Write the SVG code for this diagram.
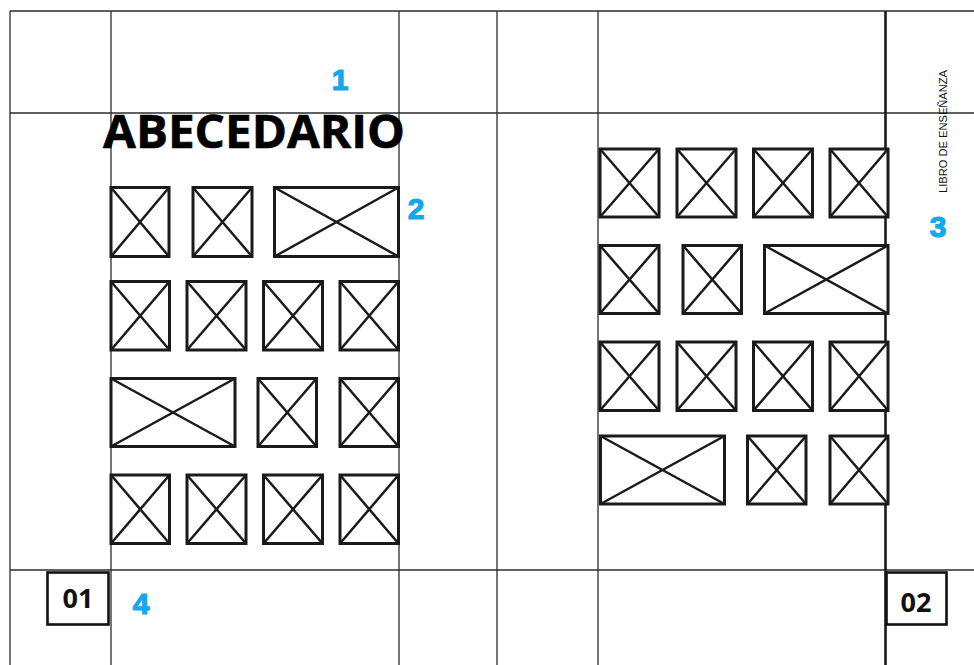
<svg xmlns="http://www.w3.org/2000/svg" width="974" height="665" viewBox="0 0 974 665">
<defs>
<style>
.grid{stroke:#2b2b2b;stroke-width:1.3;fill:none}
.spine{stroke:#1a1a1a;stroke-width:2.6;fill:none}
.ph rect{fill:#fff;stroke:#1a1a1a;stroke-width:3}
.ph line{stroke:#1a1a1a;stroke-width:2.5}
.num{font-family:"Liberation Sans",Arial,sans-serif;font-weight:bold;font-size:30px;fill:#12a9ea;stroke:#12a9ea;stroke-width:1.2;text-anchor:middle}
.pg rect{fill:#fff;stroke:#111;stroke-width:2.6}
.pg text{font-family:"Open Sans","Liberation Sans",sans-serif;font-weight:bold;font-size:27px;fill:#111;text-anchor:middle}
</style>
</defs>
<rect width="974" height="665" fill="#fff"/>
<g id="grid">
<line class="grid" x1="10" y1="11" x2="974" y2="11"/>
<line class="grid" x1="10" y1="113" x2="974" y2="113"/>
<line class="grid" x1="10" y1="570" x2="974" y2="570"/>
<line class="grid" x1="10" y1="11" x2="10" y2="665"/>
<line class="grid" x1="111" y1="11" x2="111" y2="665"/>
<line class="grid" x1="399" y1="11" x2="399" y2="665"/>
<line class="grid" x1="497" y1="11" x2="497" y2="665"/>
<line class="grid" x1="598" y1="11" x2="598" y2="665"/>
<line class="spine" x1="885.5" y1="11" x2="885.5" y2="665"/>
</g>
<g id="title">
<text x="103" y="148" font-family="'Open Sans','Liberation Sans',sans-serif" font-weight="bold" font-size="46" fill="#000" stroke="#000" stroke-width="0.6" textLength="302" lengthAdjust="spacingAndGlyphs">ABECEDARIO</text>
</g>
<g id="spine-title">
<text x="947" y="193" transform="rotate(-90 947 193)" font-family="'Liberation Sans',Arial,sans-serif" font-size="11" fill="#111" textLength="123" lengthAdjust="spacingAndGlyphs">LIBRO DE ENSEÑANZA</text>
</g>
<g id="markers">
<text class="num" x="340" y="90">1</text>
<text class="num" x="416" y="219">2</text>
<text class="num" x="938" y="237">3</text>
<text class="num" x="141" y="614">4</text>
</g>
<g id="page-01" class="pg">
<rect x="47.5" y="572.5" width="61" height="52"/>
<text x="78" y="608">01</text>
</g>
<g id="page-02" class="pg">
<rect x="886.5" y="572.5" width="60" height="52"/>
<text x="916" y="612">02</text>
</g>
<g id="left-images" class="ph">
<g id="L1a"><rect x="111" y="187.5" width="58" height="69"/><line x1="111" y1="187.5" x2="169" y2="256.5"/><line x1="169" y1="187.5" x2="111" y2="256.5"/></g>
<g id="L1b"><rect x="193" y="187.5" width="59" height="69"/><line x1="193" y1="187.5" x2="252" y2="256.5"/><line x1="252" y1="187.5" x2="193" y2="256.5"/></g>
<g id="L1c"><rect x="274.5" y="187.5" width="124" height="69"/><line x1="274.5" y1="187.5" x2="398.5" y2="256.5"/><line x1="398.5" y1="187.5" x2="274.5" y2="256.5"/></g>

<g id="L2a"><rect x="111" y="281.5" width="58.5" height="68.5"/><line x1="111" y1="281.5" x2="169.5" y2="350"/><line x1="169.5" y1="281.5" x2="111" y2="350"/></g>
<g id="L2b"><rect x="187" y="281.5" width="59" height="68.5"/><line x1="187" y1="281.5" x2="246" y2="350"/><line x1="246" y1="281.5" x2="187" y2="350"/></g>
<g id="L2c"><rect x="263.5" y="281.5" width="59" height="68.5"/><line x1="263.5" y1="281.5" x2="322.5" y2="350"/><line x1="322.5" y1="281.5" x2="263.5" y2="350"/></g>
<g id="L2d"><rect x="340" y="281.5" width="58.5" height="68.5"/><line x1="340" y1="281.5" x2="398.5" y2="350"/><line x1="398.5" y1="281.5" x2="340" y2="350"/></g>

<g id="L3a"><rect x="111" y="378.5" width="124" height="68"/><line x1="111" y1="378.5" x2="235" y2="446.5"/><line x1="235" y1="378.5" x2="111" y2="446.5"/></g>
<g id="L3b"><rect x="258" y="378.5" width="58.5" height="68"/><line x1="258" y1="378.5" x2="316.5" y2="446.5"/><line x1="316.5" y1="378.5" x2="258" y2="446.5"/></g>
<g id="L3c"><rect x="340" y="378.5" width="58.5" height="68"/><line x1="340" y1="378.5" x2="398.5" y2="446.5"/><line x1="398.5" y1="378.5" x2="340" y2="446.5"/></g>

<g id="L4a"><rect x="111" y="475" width="58.5" height="68.5"/><line x1="111" y1="475" x2="169.5" y2="543.5"/><line x1="169.5" y1="475" x2="111" y2="543.5"/></g>
<g id="L4b"><rect x="187" y="475" width="59" height="68.5"/><line x1="187" y1="475" x2="246" y2="543.5"/><line x1="246" y1="475" x2="187" y2="543.5"/></g>
<g id="L4c"><rect x="263.5" y="475" width="59" height="68.5"/><line x1="263.5" y1="475" x2="322.5" y2="543.5"/><line x1="322.5" y1="475" x2="263.5" y2="543.5"/></g>
<g id="L4d"><rect x="340" y="475" width="58.5" height="68.5"/><line x1="340" y1="475" x2="398.5" y2="543.5"/><line x1="398.5" y1="475" x2="340" y2="543.5"/></g>
</g>
<g id="right-images" class="ph">
<g id="R1a"><rect x="600" y="149" width="59" height="68"/><line x1="600" y1="149" x2="659" y2="217"/><line x1="659" y1="149" x2="600" y2="217"/></g>
<g id="R1b"><rect x="677" y="149" width="59" height="68"/><line x1="677" y1="149" x2="736" y2="217"/><line x1="736" y1="149" x2="677" y2="217"/></g>
<g id="R1c"><rect x="753.5" y="149" width="59" height="68"/><line x1="753.5" y1="149" x2="812.5" y2="217"/><line x1="812.5" y1="149" x2="753.5" y2="217"/></g>
<g id="R1d"><rect x="830" y="149" width="58" height="68"/><line x1="830" y1="149" x2="888" y2="217"/><line x1="888" y1="149" x2="830" y2="217"/></g>

<g id="R2a"><rect x="600" y="245.5" width="59" height="68"/><line x1="600" y1="245.5" x2="659" y2="313.5"/><line x1="659" y1="245.5" x2="600" y2="313.5"/></g>
<g id="R2b"><rect x="683" y="245.5" width="58.5" height="68"/><line x1="683" y1="245.5" x2="741.5" y2="313.5"/><line x1="741.5" y1="245.5" x2="683" y2="313.5"/></g>
<g id="R2c"><rect x="764.5" y="245.5" width="123.5" height="68"/><line x1="764.5" y1="245.5" x2="888" y2="313.5"/><line x1="888" y1="245.5" x2="764.5" y2="313.5"/></g>

<g id="R3a"><rect x="600" y="342" width="59" height="68.5"/><line x1="600" y1="342" x2="659" y2="410.5"/><line x1="659" y1="342" x2="600" y2="410.5"/></g>
<g id="R3b"><rect x="677" y="342" width="59" height="68.5"/><line x1="677" y1="342" x2="736" y2="410.5"/><line x1="736" y1="342" x2="677" y2="410.5"/></g>
<g id="R3c"><rect x="753.5" y="342" width="59" height="68.5"/><line x1="753.5" y1="342" x2="812.5" y2="410.5"/><line x1="812.5" y1="342" x2="753.5" y2="410.5"/></g>
<g id="R3d"><rect x="830" y="342" width="58" height="68.5"/><line x1="830" y1="342" x2="888" y2="410.5"/><line x1="888" y1="342" x2="830" y2="410.5"/></g>

<g id="R4a"><rect x="600.5" y="436" width="124" height="68"/><line x1="600.5" y1="436" x2="724.5" y2="504"/><line x1="724.5" y1="436" x2="600.5" y2="504"/></g>
<g id="R4b"><rect x="747.5" y="436" width="58.5" height="68"/><line x1="747.5" y1="436" x2="806" y2="504"/><line x1="806" y1="436" x2="747.5" y2="504"/></g>
<g id="R4c"><rect x="830" y="436" width="58" height="68"/><line x1="830" y1="436" x2="888" y2="504"/><line x1="888" y1="436" x2="830" y2="504"/></g>
</g>
</svg>
